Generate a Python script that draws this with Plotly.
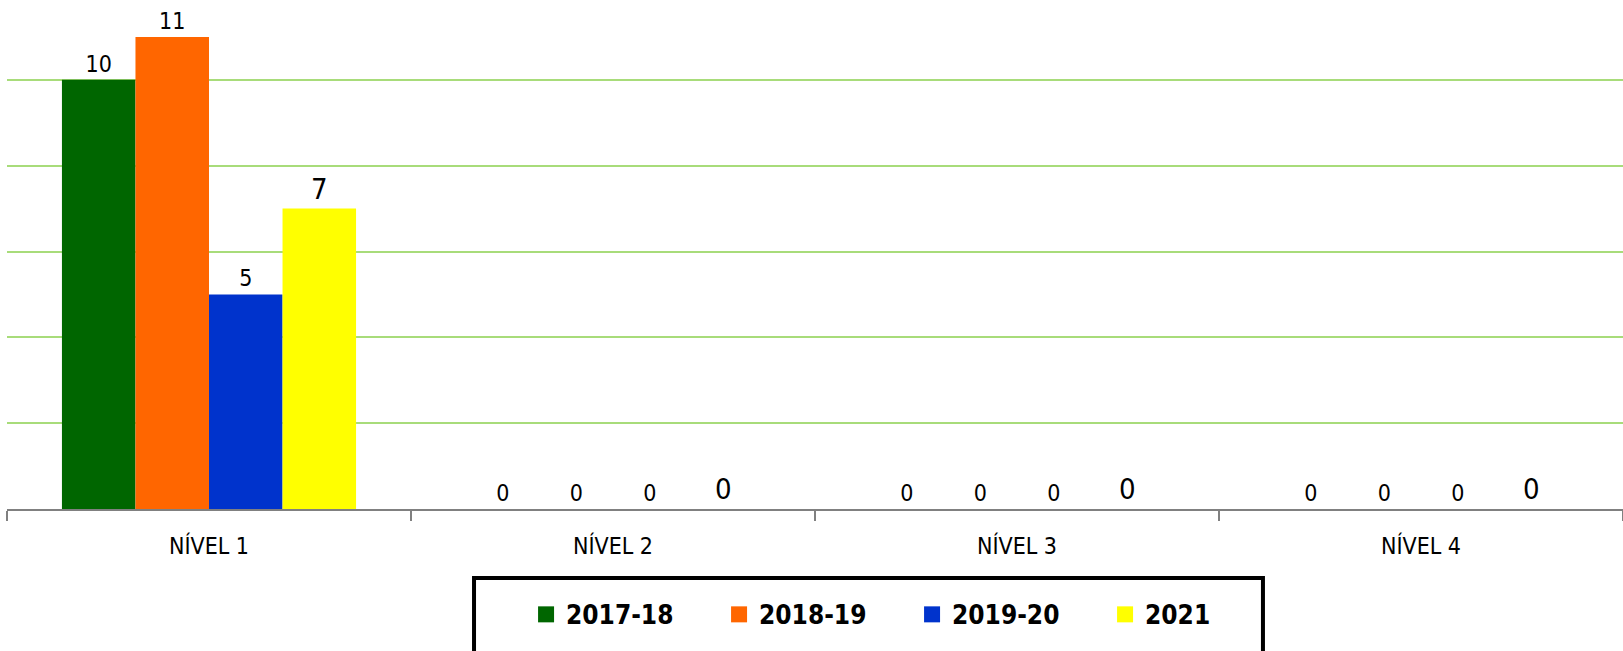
import plotly.graph_objects as go

categories = ["NÍVEL 1", "NÍVEL 2", "NÍVEL 3", "NÍVEL 4"]
series_names = ["2017-18", "2018-19", "2019-20", "2021"]
v_2017_18 = [10, 0, 0, 0]
v_2018_19 = [11, 0, 0, 0]
v_2019_20 = [5, 0, 0, 0]
v_2021 = [7, 0, 0, 0]
colors = ["#006600", "#FF6600", "#0033CC", "#FFFF00"]
label_sizes = [23, 23, 23, 29]

FONT = "Liberation Sans Narrow, DejaVu Sans Condensed, Arial Narrow, sans-serif"

fig = go.Figure()
for name, vals, col, ls in zip(series_names, [v_2017_18, v_2018_19, v_2019_20, v_2021], colors, label_sizes):
    fig.add_trace(go.Bar(
        x=categories, y=vals, name=name, legendgroup=name, showlegend=False,
        marker=dict(color=col, line=dict(width=0)),
        text=[str(v) for v in vals], textposition="outside",
        textfont=dict(family=FONT, size=ls, color="black"),
        cliponaxis=False,
    ))
# legend-only entries (larger square swatches)
for name, col in zip(series_names, colors):
    fig.add_trace(go.Scatter(
        x=[None], y=[None], mode="markers", name=name, legendgroup=name,
        marker=dict(symbol="square", size=19, color=col, line=dict(width=0)),
        hoverinfo="skip",
    ))

W, H = 1623, 651
fig.update_layout(
    width=W, height=H, autosize=False,
    margin=dict(l=7, r=0, t=0, b=142, pad=0),
    paper_bgcolor="white", plot_bgcolor="white",
    barmode="group", bargap=0.272, bargroupgap=0,
    font=dict(family=FONT, color="black"),
    showlegend=True,
    legend=dict(
        orientation="h", x=0.3212, xanchor="left", y=-0.161, yanchor="top",
        font=dict(family=FONT, size=26, color="black", weight="bold"),
        entrywidth=148, entrywidthmode="pixels", itemsizing="trace",
        bgcolor="rgba(0,0,0,0)", borderwidth=0,
    ),
    xaxis=dict(
        type="category", showline=True, linecolor="#808080", linewidth=2,
        ticks="outside", tickson="boundaries", ticklen=10, tickcolor="#808080", tickwidth=2,
        tickfont=dict(family=FONT, size=23, color="black"),
        ticklabelstandoff=15,
        showgrid=False, zeroline=False,
    ),
    yaxis=dict(
        range=[0, 11.86], dtick=2, showgrid=True, gridcolor="#A8DC7A", gridwidth=2,
        showticklabels=False, zeroline=False, showline=False, ticks="",
    ),
    shapes=[dict(
        type="rect", xref="paper", yref="paper",
        x0=0.2890, x1=0.7772, y0=-0.1356, y1=-0.30,
        line=dict(color="black", width=4), fillcolor="rgba(0,0,0,0)",
    )],
)

fig.write_html(
    "out.html",
    config={"displayModeBar": False},
    post_script="document.body.style.margin='0';document.body.style.overflow='hidden';",
)
